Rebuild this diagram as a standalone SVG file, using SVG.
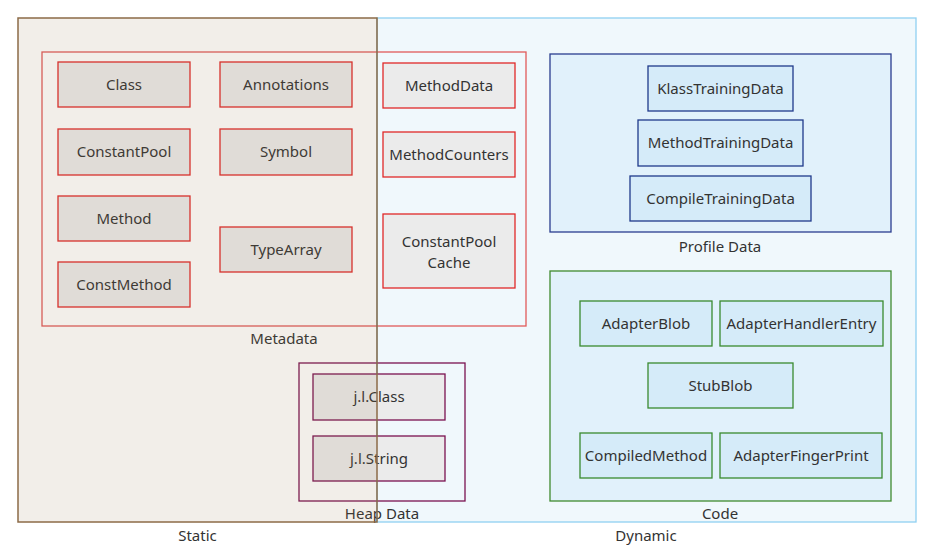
<svg xmlns="http://www.w3.org/2000/svg" width="930" height="560" viewBox="0 0 930 560">
<style>
text{font-family:"Noto Sans","Open Sans","DejaVu Sans",sans-serif;font-size:15px;fill:#333;text-anchor:middle}
.meta{fill:#ebebeb;stroke:#e02828;stroke-width:1.3}
.prof{fill:#d5ebf9;stroke:#1f3a8a;stroke-width:1.3}
.code{fill:#d5ebf9;stroke:#3a8a2e;stroke-width:1.3}
.heap{fill:#ebebeb;stroke:#7a1250;stroke-width:1.3}
</style>
<rect width="930" height="560" fill="#ffffff"/>
<g id="dynamic">
<rect x="377" y="18" width="539" height="504" fill="#f0f8fc" stroke="#8fd0f2" stroke-width="1.3"/>
<text x="646" y="541">Dynamic</text>
</g>
<g id="metadata">
<rect x="42" y="52" width="484" height="274" fill="none" stroke="#e05a5a" stroke-width="1.3"/>
<text x="284" y="344">Metadata</text>
</g>
<g id="class"><rect class="meta" x="58" y="62" width="132" height="45"/><text x="124" y="90">Class</text></g>
<g id="annotations"><rect class="meta" x="220" y="62" width="132" height="45"/><text x="286" y="90">Annotations</text></g>
<g id="constantpool"><rect class="meta" x="58" y="129" width="132" height="46"/><text x="124" y="157">ConstantPool</text></g>
<g id="symbol"><rect class="meta" x="220" y="129" width="132" height="46"/><text x="286" y="157">Symbol</text></g>
<g id="method"><rect class="meta" x="58" y="196" width="132" height="45"/><text x="124" y="224">Method</text></g>
<g id="typearray"><rect class="meta" x="220" y="227" width="132" height="45"/><text x="286" y="255">TypeArray</text></g>
<g id="constmethod"><rect class="meta" x="58" y="262" width="132" height="45"/><text x="124" y="290">ConstMethod</text></g>
<g id="methoddata"><rect class="meta" x="383" y="63" width="132" height="45"/><text x="449" y="91">MethodData</text></g>
<g id="methodcounters"><rect class="meta" x="383" y="132" width="132" height="45"/><text x="449" y="160">MethodCounters</text></g>
<g id="cpcache"><rect class="meta" x="383" y="214" width="132" height="74"/><text x="449" y="247">ConstantPool</text><text x="449" y="268">Cache</text></g>
<g id="profiledata">
<rect x="550" y="54" width="341" height="178" fill="#e1f1fb" stroke="#2a3d8f" stroke-width="1.3"/>
<text x="720" y="252">Profile Data</text>
</g>
<g id="klasstd"><rect class="prof" x="648" y="66" width="145" height="45"/><text x="720.5" y="94">KlassTrainingData</text></g>
<g id="methodtd"><rect class="prof" x="638" y="120" width="165" height="46"/><text x="720.5" y="148">MethodTrainingData</text></g>
<g id="compiletd"><rect class="prof" x="630" y="176" width="181" height="45"/><text x="720.5" y="204">CompileTrainingData</text></g>
<g id="code">
<rect x="550" y="271" width="341" height="230" fill="#e1f1fb" stroke="#3f8a2e" stroke-width="1.3"/>
<text x="720" y="519">Code</text>
</g>
<g id="adapterblob"><rect class="code" x="580" y="301" width="132" height="45"/><text x="646" y="329">AdapterBlob</text></g>
<g id="adapterhandlerentry"><rect class="code" x="720" y="301" width="163" height="45"/><text x="801.5" y="329">AdapterHandlerEntry</text></g>
<g id="stubblob"><rect class="code" x="648" y="363" width="145" height="45"/><text x="720.5" y="391">StubBlob</text></g>
<g id="compiledmethod"><rect class="code" x="580" y="433" width="132" height="45"/><text x="646" y="461">CompiledMethod</text></g>
<g id="adapterfingerprint"><rect class="code" x="720" y="433" width="162" height="45"/><text x="801" y="461">AdapterFingerPrint</text></g>
<g id="heapdata">
<rect x="299" y="363" width="166" height="138" fill="none" stroke="#7a1250" stroke-width="1.3"/>
<text x="382" y="519">Heap Data</text>
</g>
<g id="jlclass"><rect class="heap" x="313" y="374" width="132" height="46"/><text x="379" y="402">j.l.Class</text></g>
<g id="jlstring"><rect class="heap" x="313" y="436" width="132" height="45"/><text x="379" y="464">j.l.String</text></g>
<g id="static">
<rect x="18" y="18" width="359" height="504" fill="#937148" fill-opacity="0.12" stroke="#8c6b47" stroke-width="1.5"/>
<text x="197.5" y="541">Static</text>
</g>
<g id="connectors"></g>
</svg>
